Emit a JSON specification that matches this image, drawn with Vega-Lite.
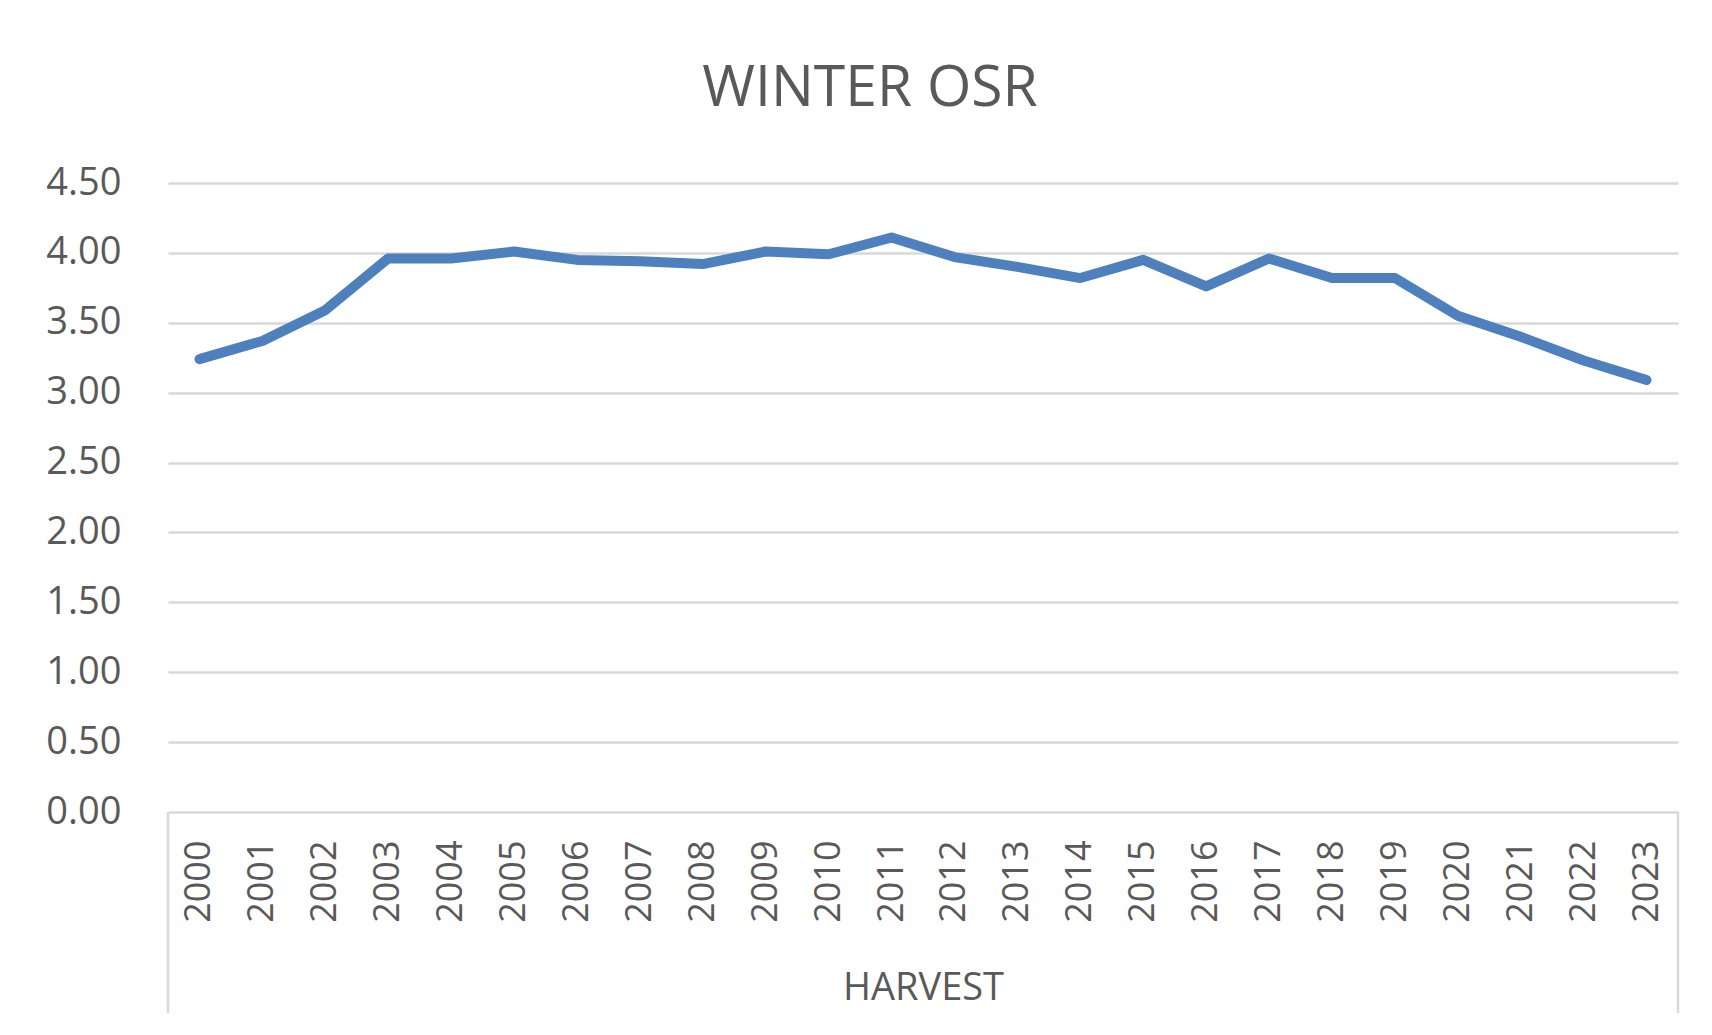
{
  "$schema": "https://vega.github.io/schema/vega-lite/v6.json",
  "autosize": "none",
  "padding": {"left": 168, "top": 183, "right": 34, "bottom": 223},
  "width": 1510,
  "height": 629,
  "background": "white",
  "config": {
    "view": {"stroke": null},
    "font": "Open Sans",
    "axis": {"labelFont": "Open Sans", "titleFont": "Open Sans", "labelColor": "#595959", "titleColor": "#595959"}
  },
  "title": {
    "text": "WINTER OSR",
    "font": "Open Sans",
    "fontSize": 57,
    "fontWeight": "normal",
    "color": "#595959",
    "anchor": "middle",
    "frame": "group",
    "offset": 46,
    "dx": -53
  },
  "data": {
    "values": [
      {"year": "2000", "value": 3.24},
      {"year": "2001", "value": 3.37},
      {"year": "2002", "value": 3.59},
      {"year": "2003", "value": 3.96},
      {"year": "2004", "value": 3.96},
      {"year": "2005", "value": 4.01},
      {"year": "2006", "value": 3.95},
      {"year": "2007", "value": 3.94},
      {"year": "2008", "value": 3.92},
      {"year": "2009", "value": 4.01},
      {"year": "2010", "value": 3.99},
      {"year": "2011", "value": 4.11},
      {"year": "2012", "value": 3.97},
      {"year": "2013", "value": 3.90},
      {"year": "2014", "value": 3.82},
      {"year": "2015", "value": 3.95},
      {"year": "2016", "value": 3.76},
      {"year": "2017", "value": 3.96},
      {"year": "2018", "value": 3.82},
      {"year": "2019", "value": 3.82},
      {"year": "2020", "value": 3.55},
      {"year": "2021", "value": 3.40},
      {"year": "2022", "value": 3.23},
      {"year": "2023", "value": 3.09}
    ]
  },
  "layer": [
    {
      "transform": [{"filter": "datum.year == '2000'"}],
      "mark": {"type": "rule", "color": "#d9d9d9", "strokeWidth": 2.5},
      "encoding": {
        "x": {"field": "year", "type": "ordinal", "bandPosition": 0},
        "y": {"datum": 0, "type": "quantitative"},
        "y2": {"datum": -1.438}
      }
    },
    {
      "transform": [{"filter": "datum.year == '2023'"}],
      "mark": {"type": "rule", "color": "#d9d9d9", "strokeWidth": 2.5},
      "encoding": {
        "x": {"field": "year", "type": "ordinal", "bandPosition": 1},
        "y": {"datum": 0, "type": "quantitative"},
        "y2": {"datum": -1.438}
      }
    },
    {
      "mark": {"type": "line", "color": "#4e80bd", "strokeWidth": 10, "strokeCap": "round", "strokeJoin": "round"},
      "encoding": {
        "x": {
          "field": "year",
          "type": "ordinal",
          "bandPosition": 0.5,
          "scale": {"type": "band", "paddingInner": 0, "paddingOuter": 0},
          "axis": {
            "title": "HARVEST",
            "titleFontSize": 38,
            "titleFontWeight": "normal",
            "titlePadding": 47,
            "labelAngle": -90,
            "labelFontSize": 36,
            "labelPadding": 28,
            "ticks": false,
            "domain": false,
            "grid": false
          }
        },
        "y": {
          "field": "value",
          "type": "quantitative",
          "scale": {"domain": [0, 4.5], "nice": false, "zero": true},
          "axis": {
            "title": null,
            "values": [0, 0.5, 1, 1.5, 2, 2.5, 3, 3.5, 4, 4.5],
            "format": ".2f",
            "labelFontSize": 38,
            "labelPadding": 47,
            "ticks": false,
            "domain": false,
            "grid": true,
            "gridColor": "#d9d9d9",
            "gridWidth": 2.5
          }
        }
      }
    }
  ]
}
